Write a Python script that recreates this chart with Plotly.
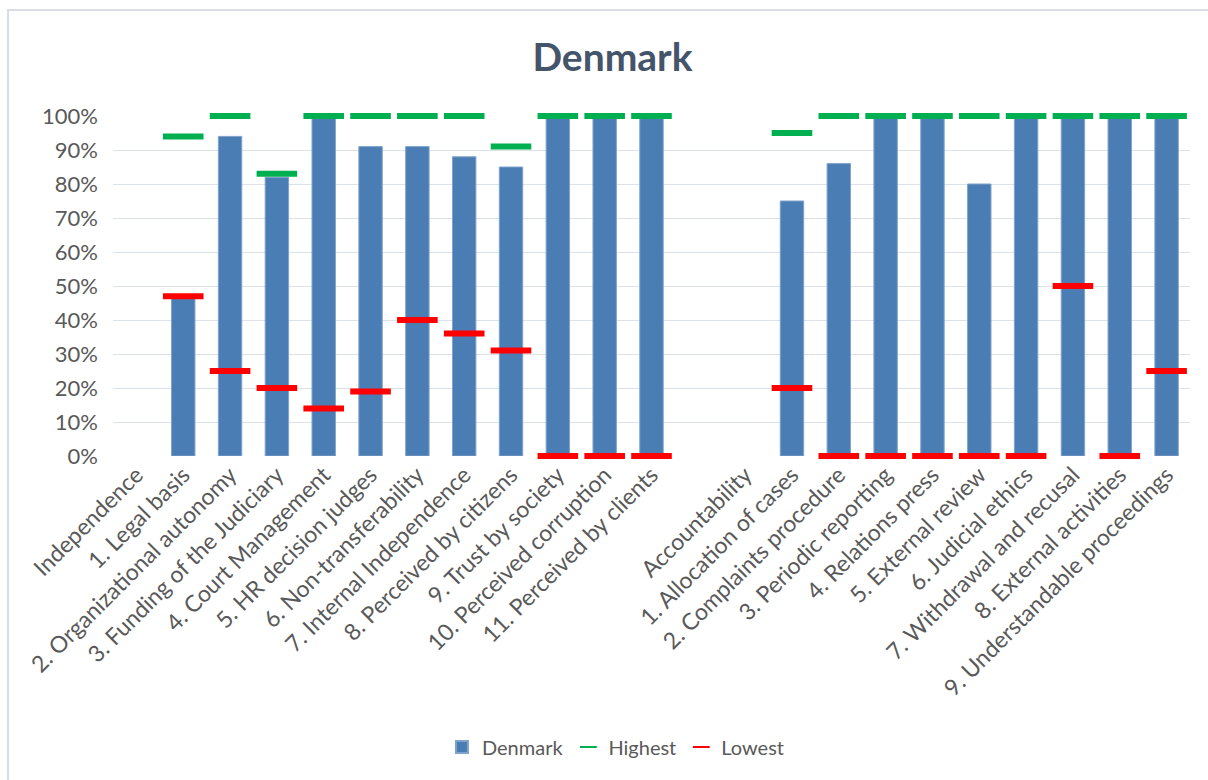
import plotly.graph_objects as go

# Categories along the x axis (group headers have no values, " " is the gap)
categories = [
    "Independence",
    "1. Legal basis",
    "2. Organizational autonomy",
    "3. Funding of the Judiciary",
    "4. Court Management",
    "5. HR decision judges",
    "6. Non-transferability",
    "7. Internal Independence",
    "8. Perceived by citizens",
    "9. Trust by society",
    "10. Perceived corruption",
    "11. Perceived by clients",
    " ",
    "Accountability",
    "1. Allocation of cases",
    "2. Complaints procedure",
    "3. Periodic reporting",
    "4. Relations press",
    "5. External review",
    "6. Judicial ethics",
    "7. Withdrawal and recusal",
    "8. External activities",
    "9. Understandable proceedings",
]

denmark = [None, 0.47, 0.94, 0.82, 1.00, 0.91, 0.91, 0.88, 0.85, 1.00, 1.00, 1.00,
           None, None, 0.75, 0.86, 1.00, 1.00, 0.80, 1.00, 1.00, 1.00, 1.00]
highest = [None, 0.94, 1.00, 0.83, 1.00, 1.00, 1.00, 1.00, 0.91, 1.00, 1.00, 1.00,
           None, None, 0.95, 1.00, 1.00, 1.00, 1.00, 1.00, 1.00, 1.00, 1.00]
lowest = [None, 0.47, 0.25, 0.20, 0.14, 0.19, 0.40, 0.36, 0.31, 0.00, 0.00, 0.00,
          None, None, 0.20, 0.00, 0.00, 0.00, 0.00, 0.00, 0.50, 0.00, 0.25]

text_color = "#595959"
font_family = "Lato, 'Open Sans', sans-serif"

fig = go.Figure()

fig.add_trace(go.Bar(
    x=categories,
    y=denmark,
    name="Denmark",
    width=0.5,
    marker=dict(color="#4A7DB4", line=dict(color="#7FA3CB", width=1)),
))

fig.add_trace(go.Scatter(
    x=categories,
    y=highest,
    name="Highest",
    mode="markers",
    cliponaxis=False,
    marker=dict(symbol="line-ew", size=29, line=dict(color="#00B050", width=6)),
))

fig.add_trace(go.Scatter(
    x=categories,
    y=lowest,
    name="Lowest",
    mode="markers",
    cliponaxis=False,
    marker=dict(symbol="line-ew", size=29, line=dict(color="#FF0000", width=6)),
))

fig.update_layout(
    width=1208,
    height=780,
    margin=dict(l=113, r=18, t=116, b=324, autoexpand=False),
    paper_bgcolor="white",
    plot_bgcolor="white",
    font=dict(family=font_family, color=text_color, size=22),
    title=dict(
        text="<b>Denmark</b>",
        x=0.507,
        xref="container",
        xanchor="center",
        y=0.926,
        yref="container",
        yanchor="middle",
        font=dict(size=39, color="#44546A", family=font_family),
    ),
    showlegend=True,
    legend=dict(
        orientation="h",
        x=0.467,
        xanchor="center",
        y=-0.856,
        yanchor="middle",
        font=dict(size=20, color=text_color),
        itemsizing="constant",
    ),
    xaxis=dict(
        type="category",
        categoryorder="array",
        categoryarray=categories,
        range=[-0.5, len(categories) - 0.5],
        tickangle=-45,
        tickfont=dict(size=23, color=text_color),
        showgrid=False,
        showline=False,
        ticks="",
        automargin=False,
    ),
    yaxis=dict(
        range=[0, 1.0],
        tickformat=".0%",
        dtick=0.1,
        tickfont=dict(size=22, color=text_color),
        showgrid=True,
        gridcolor="#DDE1E8",
        gridwidth=1,
        zeroline=False,
        ticklabelstandoff=14,
        automargin=False,
    ),
    shapes=[
        dict(
            type="rect",
            xref="paper",
            yref="paper",
            x0=(8 - 113) / 1077,
            x1=(1230 - 113) / 1077,
            y0=(456 - 800) / 340,
            y1=(456 - 10) / 340,
            line=dict(color="#D9DEE6", width=2),
            layer="below",
        )
    ],
)

# drop the default page margin so the figure sits at the window corner
fig.write_html(
    "out.html",
    config={"displayModeBar": False},
    post_script="document.body.style.margin = '0';",
)
